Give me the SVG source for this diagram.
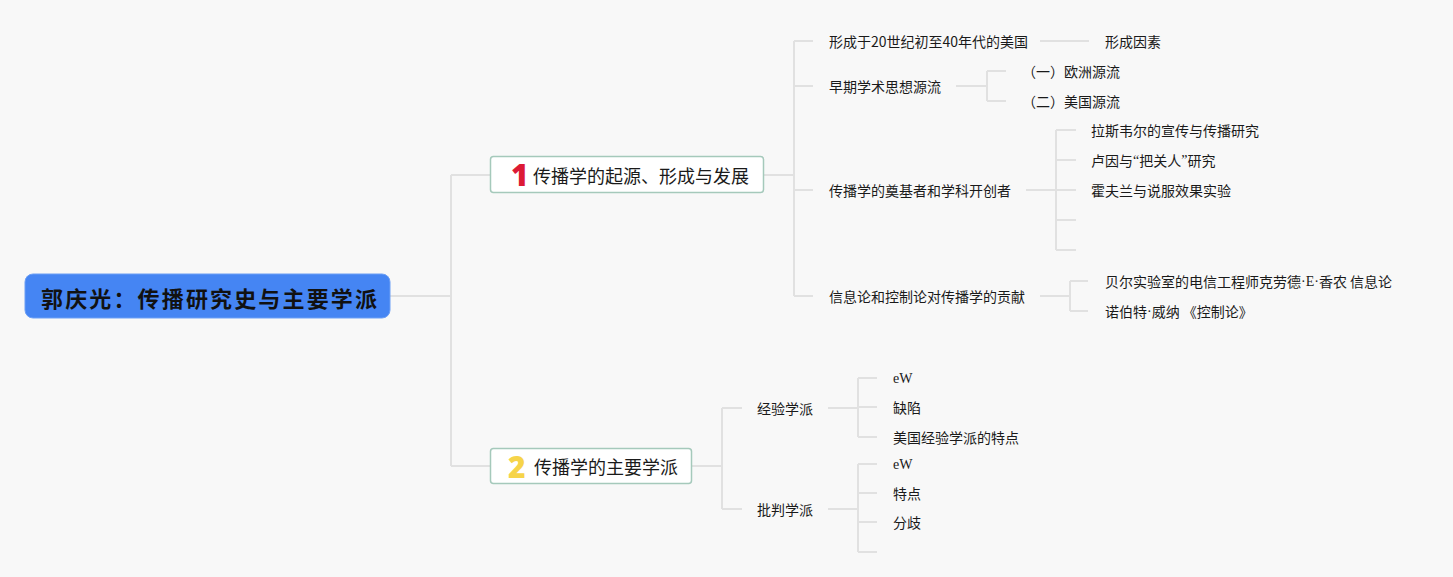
<svg xmlns="http://www.w3.org/2000/svg" width="1453" height="577" viewBox="0 0 1453 577">
<style>
.bg{fill:#f8f8f8}
.c{fill:none;stroke:#e1e1e1;stroke-width:2}
.root{fill:#4585f3;stroke:#6c9ff5;stroke-width:1}
.main{fill:#ffffff;stroke:#a5c9bb;stroke-width:1.5}
.t{font-family:"Noto Sans CJK SC","Noto Sans",sans-serif;fill:#1a1a1a;dominant-baseline:central}
.rt{font-size:22px;font-weight:bold;fill:#111}
.mt{font-size:18px}
.st{font-size:14px}
.lat{font-family:"Liberation Serif",serif}
.ew{font-family:"Liberation Serif",serif;font-size:14px;fill:#1a1a1a;dominant-baseline:central}
.num{font-family:"Noto Sans","DejaVu Sans",sans-serif;font-size:30px;font-weight:900;dominant-baseline:central}
</style>
<rect class="bg" x="0" y="0" width="1453" height="577"/>
<g id="connectors">
<path class="c" d="M390 296 H451 M451 175 V466 M451 175 H490 M451 466 H490"/>
<path class="c" d="M764 175 H794 M794 41 V296 M794 41 H813 M794 86 H813 M794 190 H813 M794 296 H813"/>
<path class="c" d="M1040 41 H1089"/>
<path class="c" d="M956 86 H987 M987 71 V101 M987 71 H1006 M987 101 H1006"/>
<path class="c" d="M1026 190 H1056 M1056 130 V250 M1056 130 H1076 M1056 160 H1076 M1056 190 H1076 M1056 220 H1076 M1056 250 H1076"/>
<path class="c" d="M1040 296 H1070 M1070 281 V311 M1070 281 H1088 M1070 311 H1088"/>
<path class="c" d="M692 466 H722 M722 408 V509 M722 408 H742 M722 509 H742"/>
<path class="c" d="M828 408 H858 M858 378 V437 M858 378 H877 M858 407 H877 M858 437 H877"/>
<path class="c" d="M828 509 H858 M858 464 V552 M858 464 H877 M858 493 H877 M858 522 H877 M858 552 H877"/>
</g>
<g id="root">
<rect class="root" x="25" y="274" width="365" height="44" rx="8"/>
<text class="t rt" x="41" y="297" textLength="336" lengthAdjust="spacing">郭庆光：传播研究史与主要学派</text>
</g>
<g id="n1">
<rect class="main" x="490.5" y="156.5" width="273" height="36" rx="3"/>
<text class="num" x="511" y="174" fill="#dc1a35">1</text>
<text class="t mt" x="533" y="175">传播学的起源、形成与发展</text>
</g>
<g id="n2">
<rect class="main" x="490.5" y="448.5" width="201" height="35" rx="3"/>
<text class="num" x="508" y="466" fill="#f6d44a">2</text>
<text class="t mt" x="534" y="466">传播学的主要学派</text>
</g>
<g id="n1-1"><text class="t st" x="829" y="41">形成于20世纪初至40年代的美国</text></g>
<g id="n1-1-1"><text class="t st" x="1105" y="41">形成因素</text></g>
<g id="n1-2"><text class="t st" x="829" y="86">早期学术思想源流</text></g>
<g id="n1-2-1"><text class="t st" x="1022" y="71">（一）欧洲源流</text></g>
<g id="n1-2-2"><text class="t st" x="1022" y="101">（二）美国源流</text></g>
<g id="n1-3"><text class="t st" x="829" y="190">传播学的奠基者和学科开创者</text></g>
<g id="n1-3-1"><text class="t st" x="1091" y="130">拉斯韦尔的宣传与传播研究</text></g>
<g id="n1-3-2"><text class="t st" x="1091" y="160">卢因与<tspan class="lat">“</tspan>把关人<tspan class="lat">”</tspan>研究</text></g>
<g id="n1-3-3"><text class="t st" x="1091" y="190">霍夫兰与说服效果实验</text></g>
<g id="n1-4"><text class="t st" x="829" y="296">信息论和控制论对传播学的贡献</text></g>
<g id="n1-4-1"><text class="t st" x="1105" y="281">贝尔实验室的电信工程师克劳德<tspan class="lat">·E·</tspan>香农 信息论</text></g>
<g id="n1-4-2"><text class="t st" x="1105" y="311">诺伯特<tspan class="lat">·</tspan>威纳 《控制论》</text></g>
<g id="n2-1"><text class="t st" x="757" y="408">经验学派</text></g>
<g id="n2-1-1"><text class="ew" x="893" y="378">eW</text></g>
<g id="n2-1-2"><text class="t st" x="893" y="407">缺陷</text></g>
<g id="n2-1-3"><text class="t st" x="893" y="437">美国经验学派的特点</text></g>
<g id="n2-2"><text class="t st" x="757" y="509">批判学派</text></g>
<g id="n2-2-1"><text class="ew" x="893" y="464">eW</text></g>
<g id="n2-2-2"><text class="t st" x="893" y="493">特点</text></g>
<g id="n2-2-3"><text class="t st" x="893" y="522">分歧</text></g>
</svg>
